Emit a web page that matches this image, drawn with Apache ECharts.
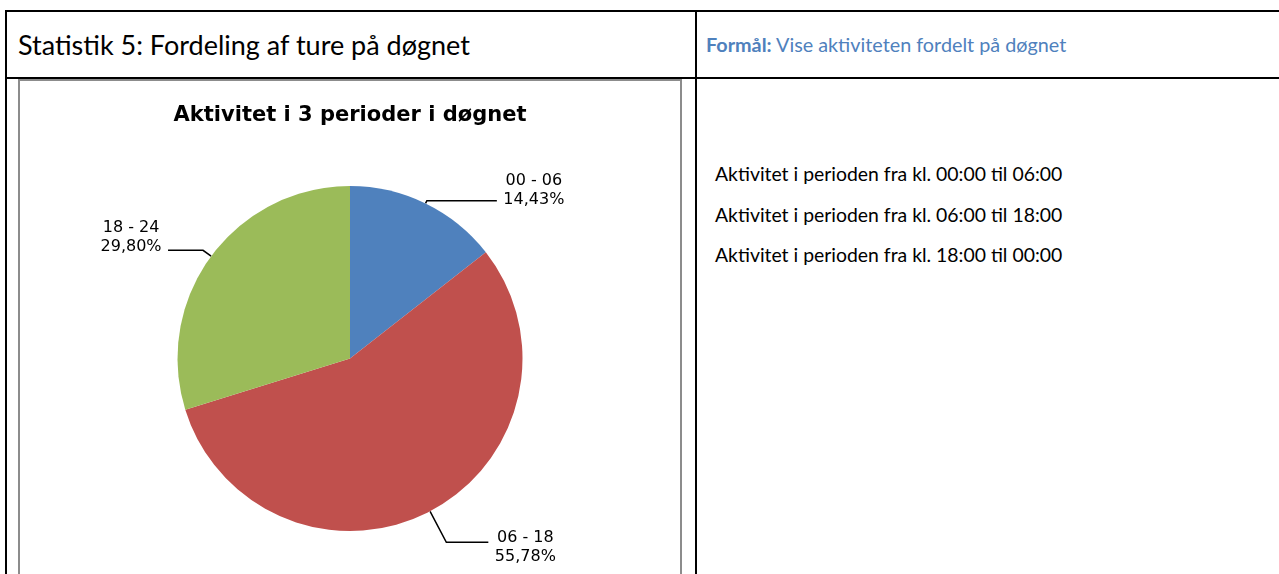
<!DOCTYPE html>
<html>
<head>
<meta charset="utf-8">
<script src="https://cdn.jsdelivr.net/npm/echarts@6/dist/echarts.min.js"></script>
<style>
  html, body { margin: 0; padding: 0; background: #fff; width: 1279px; height: 574px; overflow: hidden; position: relative; }
  .ln { position: absolute; background: #000; }
  .txt { position: absolute; white-space: nowrap; font-family: Lato, "Open Sans", sans-serif; color: #000; }
  #chartBox { position: absolute; left: 18px; top: 79px; width: 660px; height: 520px; border: 2px solid #8c8c8c; border-bottom: none; }
  #chart { position: absolute; left: 20px; top: 81px; width: 660px; height: 493px; }
</style>
</head>
<body>
<div class="ln" style="left:5px;top:10px;width:1274px;height:2px"></div>
<div class="ln" style="left:5px;top:77px;width:1274px;height:2px"></div>
<div class="ln" style="left:5px;top:10px;width:2px;height:564px"></div>
<div class="ln" style="left:695px;top:10px;width:2px;height:564px"></div>

<div class="txt" id="hdr" style="left:18px;top:29px;font-size:27px;line-height:32px"></div>
<div class="txt" id="purpose" style="left:706px;top:32px;font-size:19.8px;line-height:24px;color:#4F81BD"></div>
<div class="txt" id="desc" style="left:715px;top:154px;font-size:19.4px;line-height:40.5px"></div>

<div id="chartBox"></div>
<div id="chart"></div>

<script>
// ---- data ----
const headerTitle = "Statistik 5: Fordeling af ture på døgnet";
const purposeLabel = "Formål:";
const purposeText = " Vise aktiviteten fordelt på døgnet";
const descLines = [
  "Aktivitet i perioden fra kl. 00:00 til 06:00",
  "Aktivitet i perioden fra kl. 06:00 til 18:00",
  "Aktivitet i perioden fra kl. 18:00 til 00:00"
];
const chartTitle = "Aktivitet i 3 perioder i døgnet";
const categories = ["00 - 06", "06 - 18", "18 - 24"];
const shares = [14.43, 55.78, 29.80];
const sliceColors = ["#4F81BD", "#C0504D", "#9BBB59"];

// ---- HTML text ----
document.getElementById('hdr').textContent = headerTitle;
const p = document.getElementById('purpose');
const b = document.createElement('b'); b.textContent = purposeLabel; p.appendChild(b);
p.appendChild(document.createTextNode(purposeText));
document.getElementById('desc').innerHTML = descLines.map(s => '<div>' + s + '</div>').join('');

// ---- chart ----
const labelTweaks = [
  { length: 3, length2: 70, padding: [0, 0, 20, 0] },
  { length: 35, length2: 42, padding: [10, 0, 0, 0] },
  { length: 10, length2: 35, padding: [0, 0, 26, 0] }
];
const fmt = v => v.toFixed(2).replace('.', ',') + '%';

const chart = echarts.init(document.getElementById('chart'), null, { renderer: 'canvas' });
chart.setOption({
  animation: false,
  title: {
    text: chartTitle,
    left: 'center',
    top: 19,
    textStyle: { fontFamily: 'DejaVu Sans', fontWeight: 'bold', fontSize: 21, color: '#000' }
  },
  series: [{
    type: 'pie',
    center: [330, 277.5],
    radius: 172.5,
    startAngle: 90,
    clockwise: true,
    avoidLabelOverlap: false,
    itemStyle: { borderWidth: 0 },
    label: {
      show: true,
      position: 'outside',
      fontFamily: 'DejaVu Sans',
      fontSize: 16,
      color: '#000',
      distanceToLabelLine: 5,
      formatter: p => '{a|' + p.name + '}\n{a|' + fmt(p.value) + '}',
      rich: { a: { fontFamily: 'DejaVu Sans', fontSize: 16, lineHeight: 19, width: 64, align: 'center', color: '#000' } }
    },
    labelLine: { show: true, lineStyle: { color: '#000', width: 1.5 } },
    data: categories.map((c, i) => ({
      name: c,
      value: shares[i],
      itemStyle: { color: sliceColors[i] },
      label: { padding: labelTweaks[i].padding },
      labelLine: { length: labelTweaks[i].length, length2: labelTweaks[i].length2 }
    }))
  }]
});
</script>
</body>
</html>
